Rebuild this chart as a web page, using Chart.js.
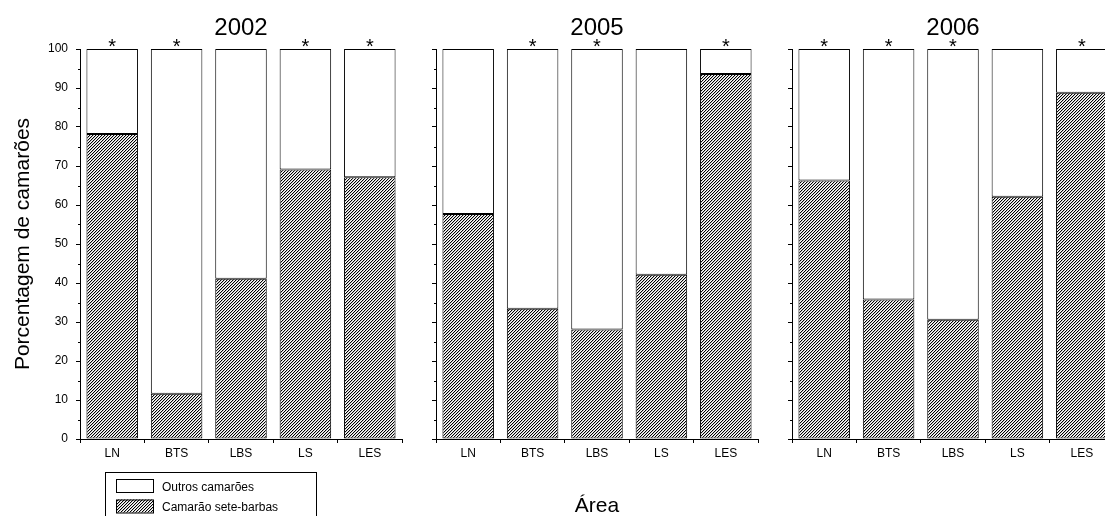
<!DOCTYPE html>
<html>
<head>
<meta charset="utf-8">
<script src="https://cdn.jsdelivr.net/npm/chart.js@4"></script>
<style>
  html, body { margin: 0; padding: 0; background: #fff; overflow: hidden; width: 1105px; height: 516px; }
  canvas { position: absolute; top: 0; }
</style>
</head>
<body>
<canvas id="c2002" width="415" height="516" style="left:0px"></canvas>
<canvas id="c2005" width="345" height="516" style="left:420px"></canvas>
<canvas id="c2006" width="345" height="516" style="left:776px"></canvas>
<script>
// Data (percent of shrimp per area)
const areas = ['LN', 'BTS', 'LBS', 'LS', 'LES'];
const years = ['2002', '2005', '2006'];
const seteBarbas2002 = [78.2, 11.6, 41.1, 69.1, 67.1];
const outros2002 = [21.8, 88.4, 58.9, 30.9, 32.9];
const seteBarbas2005 = [57.7, 33.4, 28.1, 42.1, 93.6];
const outros2005 = [42.3, 66.6, 71.9, 57.9, 6.4];
const seteBarbas2006 = [66.3, 35.8, 30.6, 62.1, 88.8];
const outros2006 = [33.7, 64.2, 69.4, 37.9, 11.2];
// significance marks above bars
const marks2002 = ['*', '*', '', '*', '*'];
const marks2005 = ['', '*', '*', '', '*'];
const marks2006 = ['*', '*', '*', '', '*'];
const yTicks = [0, 10, 20, 30, 40, 50, 60, 70, 80, 90, 100];
const yMinor = [5, 15, 25, 35, 45, 55, 65, 75, 85, 95];

const FONT = 'Liberation Sans, Arial, sans-serif';

// diagonal hatch pattern ("/" lines)
function makeHatch() {
  const c = document.createElement('canvas');
  c.width = 3; c.height = 3;
  const g = c.getContext('2d');
  g.fillStyle = '#fff';
  g.fillRect(0, 0, 3, 3);
  g.fillStyle = '#c4c4c4';
  g.fillRect(2, 1, 1, 1);
  g.fillRect(1, 2, 1, 1);
  g.fillRect(0, 0, 1, 1);
  g.fillStyle = '#000';
  g.fillRect(2, 0, 1, 1);
  g.fillRect(1, 1, 1, 1);
  g.fillRect(0, 2, 1, 1);
  return g.createPattern(c, 'repeat');
}
const hatch = makeHatch();

// panel title + asterisks + minor ticks
const panelDecor = {
  id: 'panelDecor',
  afterDraw(chart, args, opts) {
    const ctx = chart.ctx;
    const area = chart.chartArea;
    const x = chart.scales.x, y = chart.scales.y;
    ctx.save();
    ctx.fillStyle = '#000';
    ctx.textAlign = 'center';
    ctx.textBaseline = 'middle';
    ctx.font = '24px ' + FONT;
    ctx.fillText(opts.title, (area.left + area.right) / 2, 28.5);

    ctx.font = '20px ' + FONT;
    ctx.textBaseline = 'alphabetic';
    opts.marks.forEach((m, i) => {
      if (m) ctx.fillText(m, x.getPixelForValue(i), y.getPixelForValue(100) + 4);
    });

    ctx.strokeStyle = '#000';
    ctx.lineWidth = 1;
    yMinor.forEach(v => {
      const py = Math.round(y.getPixelForValue(v)) + 0.5;
      ctx.beginPath();
      ctx.moveTo(area.left - 2, py);
      ctx.lineTo(area.left, py);
      ctx.stroke();
    });
    ctx.restore();
  }
};

// boxed legend under the first panel
const boxLegend = {
  id: 'boxLegend',
  afterDraw(chart, args, opts) {
    if (!opts.show) return;
    const ctx = chart.ctx;
    ctx.save();
    ctx.strokeStyle = '#000';
    ctx.lineWidth = 1;
    ctx.strokeRect(105.5, 472.5, 211, 60);
    const items = chart.data.datasets.slice().reverse();
    ctx.font = '12px ' + FONT;
    ctx.textBaseline = 'middle';
    ctx.textAlign = 'left';
    items.forEach((ds, i) => {
      const top = 479 + i * 20.5;
      ctx.fillStyle = ds.backgroundColor;
      ctx.fillRect(116, top, 37, 13);
      ctx.strokeRect(116.5, top + 0.5, 37, 13);
      ctx.fillStyle = '#000';
      ctx.fillText(ds.label, 162, top + 8.5);
    });
    ctx.restore();
  }
};

function makePanel(id, year, sete, outros, marks, first, middle) {
  new Chart(document.getElementById(id), {
    type: 'bar',
    data: {
      labels: areas,
      datasets: [
        { label: 'Camarão sete-barbas', data: sete, backgroundColor: hatch,
          borderColor: '#000', borderWidth: 1, borderSkipped: false },
        { label: 'Outros camarões', data: outros, backgroundColor: '#fff',
          borderColor: '#000', borderWidth: 1, borderSkipped: false }
      ]
    },
    options: {
      responsive: false,
      animation: false,
      events: [],
      layout: { padding: { top: 49, right: first ? 13 : 7, left: 0, bottom: 0 } },
      datasets: { bar: { barPercentage: 0.8, categoryPercentage: 1.0 } },
      plugins: {
        legend: { display: false },
        tooltip: { enabled: false },
        panelDecor: { title: year, marks: marks },
        boxLegend: { show: first }
      },
      scales: {
        x: {
          stacked: true,
          grid: { display: true, drawOnChartArea: false, drawTicks: true, tickLength: 4, color: '#000', offset: true },
          border: { display: true, color: '#000', width: 1 },
          ticks: { color: '#000', font: { family: FONT, size: 12 }, padding: 3, maxRotation: 0 },
          title: { display: middle, text: 'Área', color: '#000', font: { family: FONT, size: 21 }, padding: { top: 0, bottom: -3 } },
          afterFit(s) { s.height = 77; }
        },
        y: {
          stacked: true,
          min: 0, max: 100,
          afterBuildTicks(s) { s.ticks = yTicks.map(v => ({ value: v })); },
          grid: { display: true, drawOnChartArea: false, drawTicks: true, tickLength: 4, color: '#000' },
          border: { display: true, color: '#000', width: 1 },
          ticks: { display: first, color: '#000', font: { family: FONT, size: 12 }, padding: 8 },
          title: { display: first, text: 'Porcentagem de camarões', color: '#000', font: { family: FONT, size: 21 }, padding: { top: 11, bottom: 0 } },
          afterFit(s) { s.width = first ? 80 : 16; }
        }
      }
    },
    plugins: [panelDecor, boxLegend]
  });
}

makePanel('c2002', years[0], seteBarbas2002, outros2002, marks2002, true, false);
makePanel('c2005', years[1], seteBarbas2005, outros2005, marks2005, false, true);
makePanel('c2006', years[2], seteBarbas2006, outros2006, marks2006, false, false);
</script>
</body>
</html>
